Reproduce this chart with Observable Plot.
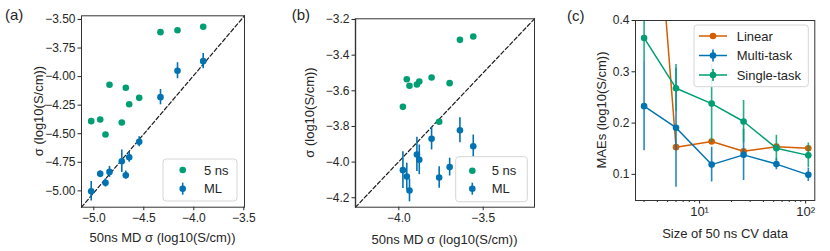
<!DOCTYPE html>
<html><head><meta charset="utf-8">
<script src="https://cdn.jsdelivr.net/npm/d3@7"></script>
<script src="https://cdn.jsdelivr.net/npm/@observablehq/plot@0.6"></script>
<style>
html,body{margin:0;padding:0;background:#fff;}
#wrap{position:relative;width:830px;height:251px;overflow:hidden;font-family:"Liberation Sans",Arial,sans-serif;}
#wrap svg{position:absolute;top:0;}
</style></head><body><div id="wrap"></div>
<script>
const C_BLUE = "#0173B2", C_GREEN = "#029E73", C_ORANGE = "#D55E00", INK = "#262626";

// ---- Panel (a) ----
const aMD   = [-4.333, -4.163, -3.906, -4.843, -4.680, -4.546, -4.646, -5.026, -4.936, -4.720, -4.883];
const a5ns  = [-3.611, -3.594, -3.564, -4.072, -4.098, -4.186, -4.242, -4.390, -4.376, -4.402, -4.507];
const aML   = [-4.180, -3.949, -3.865, -4.834, -4.863, -4.571, -4.706, -5.004, -4.851, -4.741, -4.930];
const aErr  = [0.067, 0.070, 0.066, 0.048, 0.036, 0.044, 0.044, 0.085, 0.026, 0.098, 0.036];
const aXDom = [-5.123, -3.493];
const aYDom = [-5.143, -3.468];
const aXTicks = [-5.0, -4.5, -4.0, -3.5];
const aYTicks = [-5.0, -4.75, -4.5, -4.25, -4.0, -3.75, -3.5];

// ---- Panel (b) ----
const bMD   = [-3.638, -3.559, -3.953, -3.937, -3.879, -3.893, -3.806, -3.699, -3.976, -3.761];
const b5ns  = [-3.314, -3.295, -3.535, -3.572, -3.548, -3.565, -3.525, -3.557, -3.690, -3.774];
const bML   = [-3.821, -3.911, -4.081, -4.159, -3.987, -3.957, -3.869, -4.028, -4.045, -4.086];
const bErr  = [0.070, 0.063, 0.075, 0.064, 0.083, 0.096, 0.063, 0.050, 0.103, 0.060];
const bXDom = [-4.257, -3.196];
const bYDom = [-4.253, -3.196];
const bXTicks = [-4.0, -3.5];
const bYTicks = [-4.2, -4.0, -3.8, -3.6, -3.4, -3.2];

// ---- Panel (c) ----
const cSize     = [3, 6, 13, 26, 53, 106];
const cLinear   = [0.95, 0.153, 0.164, 0.145, 0.154, 0.151];
const cMulti    = [0.233, 0.191, 0.119, 0.138, 0.120, 0.099];
const cMultiErr = [0.087, 0.116, 0.034, 0.050, 0.011, 0.013];
const cSingle   = [0.366, 0.268, 0.238, 0.203, 0.151, 0.137];
const cSingleErr= [0.046, 0.046, 0.076, 0.041, 0.025, 0.024];
const cXDom = [2.49, 122];
const cYDom = [0.049, 0.4];
const cXTicks = [10, 100];
const cXMinor = [3, 4, 5, 6, 7, 8, 9, 20, 30, 40, 50, 60, 70, 80, 90];
const cYTicks = [0.1, 0.2, 0.3, 0.4];

const wrap = document.getElementById("wrap");
const baseStyle = {fontFamily: '"Liberation Sans", Arial, sans-serif', fontSize: "12px", color: INK, background: "transparent", overflow: "visible"};
const axOpts = {tickSize: 3.5, tickPadding: 2.5, label: null, strokeWidth: 1};

function addText(svg, x, y, txt, opts = {}) {
  const t = d3.select(svg).append("text")
    .attr("x", x).attr("y", y).attr("dy", "0.35em")
    .attr("fill", INK)
    .attr("font-size", opts.size || 13)
    .attr("text-anchor", opts.anchor || "middle")
    .style("font-family", '"Liberation Sans", Arial, sans-serif')
    .text(txt);
  if (opts.rotate) t.attr("transform", `rotate(-90 ${x} ${y})`);
  return t;
}

function legendBox(svg, x0, y0, x1, y1) {
  d3.select(svg).append("rect")
    .attr("x", x0).attr("y", y0).attr("width", x1 - x0).attr("height", y1 - y0)
    .attr("rx", 3).attr("fill", "white").attr("fill-opacity", 0.85)
    .attr("stroke", "#d6d6d6").attr("stroke-width", 1);
}
function legendDot(svg, cx, cy, color, err) {
  const g = d3.select(svg);
  if (err) g.append("line").attr("x1", cx).attr("x2", cx).attr("y1", cy - err).attr("y2", cy + err)
    .attr("stroke", color).attr("stroke-width", 1.6);
  g.append("circle").attr("cx", cx).attr("cy", cy).attr("r", 3.3).attr("fill", color);
}
function legendLine(svg, x0, x1, cy, color, err) {
  const g = d3.select(svg);
  g.append("line").attr("x1", x0).attr("x2", x1).attr("y1", cy).attr("y2", cy).attr("stroke", color).attr("stroke-width", 1.5);
  legendDot(svg, (x0 + x1) / 2, cy, color, err);
}

function scatterPanel(cfg) {
  const rows = cfg.md.map((x, i) => ({x, y5: cfg.y5[i], yml: cfg.ml[i], e: cfg.err[i]}));
  const diag = [{x: cfg.xDom[0], y: cfg.yDom[0]}, {x: cfg.xDom[1], y: cfg.yDom[1]}];
  const extra = cfg.extra || [];
  const svg = Plot.plot({
    width: cfg.width, height: 251,
    marginLeft: cfg.ml0, marginRight: cfg.mr, marginTop: cfg.mt, marginBottom: cfg.mb,
    x: {domain: cfg.xDom}, y: {domain: cfg.yDom},
    style: baseStyle,
    marks: [
      ...extra,
      Plot.line(diag, {x: "x", y: "y", stroke: "#1a1a1a", strokeWidth: 1.2, strokeDasharray: "4,2.4"}),
      Plot.dot(rows, {x: "x", y: "y5", r: 3.3, fill: C_GREEN}),
      Plot.ruleX(rows, {x: "x", y1: d => d.yml - d.e, y2: d => d.yml + d.e, stroke: C_BLUE, strokeWidth: 1.6}),
      Plot.dot(rows, {x: "x", y: "yml", r: 3.3, fill: C_BLUE}),
      Plot.axisX({...axOpts, ticks: cfg.xTicks, tickFormat: d3.format(".1f")}),
      Plot.axisY({...axOpts, ticks: cfg.yTicks, tickFormat: d3.format(cfg.yFmt)}),
      Plot.frame({stroke: "#333", strokeWidth: 1})
    ]
  });
  svg.style.left = cfg.left + "px";
  wrap.appendChild(svg);
  return svg;
}

// (a)
const svgA = scatterPanel({left: 0, width: 260, ml0: 81, mr: 16, mt: 15.3, mb: 44.3,
  md: aMD, y5: a5ns, ml: aML, err: aErr, xDom: aXDom, yDom: aYDom, xTicks: aXTicks, yTicks: aYTicks, yFmt: ".2f"});
addText(svgA, 162.5, 237, "50ns MD σ (log10(S/cm))");
addText(svgA, 38, 111, "σ (log10(S/cm))", {rotate: true});
addText(svgA, 5, 15, "(a)", {size: 15, anchor: "start"});
legendBox(svgA, 163, 159, 237, 201);
legendDot(svgA, 182.7, 170, C_GREEN, 0);
addText(svgA, 204, 170, "5 ns", {anchor: "start"});
legendDot(svgA, 182.7, 188.7, C_BLUE, 6);
addText(svgA, 204, 188.7, "ML", {anchor: "start"});

// (b)
const svgB = scatterPanel({left: 270, width: 270, ml0: 85, mr: 6, mt: 18.3, mb: 44.3,
  md: bMD, y5: b5ns, ml: bML, err: bErr, xDom: bXDom, yDom: bYDom, xTicks: bXTicks, yTicks: bYTicks, yFmt: ".1f",
  extra: [Plot.ruleX([bXDom[0]], {stroke: "#b0b0b0", strokeWidth: 2})]});
addText(svgB, 174.5, 239.5, "50ns MD σ (log10(S/cm))");
addText(svgB, 39, 112.5, "σ (log10(S/cm))", {rotate: true});
addText(svgB, 21.7, 15, "(b)", {size: 15, anchor: "start"});
legendBox(svgB, 185.7, 156.7, 257.3, 201.7);
legendDot(svgB, 202.3, 170.7, C_GREEN, 0);
addText(svgB, 221.7, 170.7, "5 ns", {anchor: "start"});
legendDot(svgB, 202.3, 188.7, C_BLUE, 6);
addText(svgB, 221.7, 188.7, "ML", {anchor: "start"});

// (c)
const cRows = cSize.map((x, i) => ({x, lin: cLinear[i], mt: cMulti[i], me: cMultiErr[i], st: cSingle[i], se: cSingleErr[i]}));
const supFmt = d => d === 10 ? "10¹" : d === 100 ? "10²" : "";
const svgC = Plot.plot({
  width: 280, height: 251, marginLeft: 85, marginRight: 15.7, marginTop: 20, marginBottom: 51,
  x: {type: "log", domain: cXDom}, y: {domain: cYDom},
  style: baseStyle,
  marks: [
    Plot.line(cRows, {x: "x", y: "lin", stroke: C_ORANGE, strokeWidth: 1.5, clip: true}),
    Plot.dot(cRows, {x: "x", y: "lin", r: 3.3, fill: C_ORANGE, clip: true}),
    Plot.line(cRows, {x: "x", y: "mt", stroke: C_BLUE, strokeWidth: 1.5, clip: true}),
    Plot.ruleX(cRows, {x: "x", y1: d => d.mt - d.me, y2: d => d.mt + d.me, stroke: C_BLUE, strokeWidth: 1.6, strokeOpacity: 0.85, clip: true}),
    Plot.dot(cRows, {x: "x", y: "mt", r: 3.3, fill: C_BLUE, clip: true}),
    Plot.line(cRows, {x: "x", y: "st", stroke: C_GREEN, strokeWidth: 1.5, clip: true}),
    Plot.ruleX(cRows, {x: "x", y1: d => d.st - d.se, y2: d => d.st + d.se, stroke: C_GREEN, strokeWidth: 1.6, strokeOpacity: 0.85, clip: true}),
    Plot.dot(cRows, {x: "x", y: "st", r: 3.3, fill: C_GREEN, clip: true}),
    Plot.axisX({...axOpts, ticks: cXTicks, tickFormat: supFmt, fontSize: 13}),
    Plot.axisX({tickSize: 2, ticks: cXMinor, tickFormat: () => "", label: null}),
    Plot.axisY({...axOpts, ticks: cYTicks, tickFormat: d3.format(".1f")}),
    Plot.frame({stroke: "#333", strokeWidth: 1})
  ]
});
svgC.style.left = "550px";
wrap.appendChild(svgC);
addText(svgC, 175, 233.5, "Size of 50 ns CV data");
addText(svgC, 51.7, 110, "MAEs (log10(S/cm))", {rotate: true});
addText(svgC, 17, 16, "(c)", {size: 15, anchor: "start"});
legendBox(svgC, 144, 25, 258.3, 86.7);
legendLine(svgC, 149, 177, 36, C_ORANGE, 0);
addText(svgC, 186.7, 36, "Linear", {anchor: "start"});
legendLine(svgC, 149, 177, 55.5, C_BLUE, 6);
addText(svgC, 186.7, 55.5, "Multi-task", {anchor: "start"});
legendLine(svgC, 149, 177, 75, C_GREEN, 6);
addText(svgC, 186.7, 75, "Single-task", {anchor: "start"});
</script>
</body></html>
